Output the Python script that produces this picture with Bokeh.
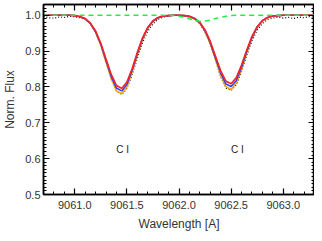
from bokeh.plotting import figure
from bokeh.models import LinearAxis, FixedTicker, PrintfTickFormatter, CustomJSTickFormatter, Range1d, ColumnDataSource, Title
from bokeh.core.properties import value
from bokeh.embed import file_html
from bokeh.resources import INLINE

# wavelength grid (Angstrom)
wave = [9060.70, 9060.75, 9060.80, 9060.85, 9060.90, 9060.95, 9061.00, 9061.05, 9061.10, 9061.15,
        9061.20, 9061.25, 9061.30, 9061.35, 9061.40, 9061.45, 9061.50, 9061.55, 9061.60, 9061.65,
        9061.70, 9061.75, 9061.80, 9061.85, 9061.90, 9061.95, 9062.00, 9062.05, 9062.10, 9062.15,
        9062.20, 9062.25, 9062.30, 9062.35, 9062.40, 9062.45, 9062.50, 9062.55, 9062.60, 9062.65,
        9062.70, 9062.75, 9062.80, 9062.85, 9062.90, 9062.95, 9063.00, 9063.05, 9063.10, 9063.15,
        9063.20, 9063.25, 9063.30]

flux_obs = [0.997, 0.993, 0.992, 0.995, 0.994, 0.997, 0.996, 0.993, 0.988, 0.976,
            0.952, 0.917, 0.870, 0.823, 0.789, 0.779, 0.796, 0.834, 0.880, 0.923,
            0.955, 0.976, 0.989, 0.995, 0.998, 1.000, 0.999, 0.998, 0.995, 0.989,
            0.976, 0.953, 0.918, 0.874, 0.829, 0.797, 0.790, 0.806, 0.843, 0.888,
            0.929, 0.958, 0.977, 0.988, 0.992, 0.995, 0.992, 0.994, 0.991, 0.995,
            0.993, 0.996, 0.994]

flux_red = [1.000, 1.000, 1.000, 1.000, 1.000, 1.000, 0.999, 0.996, 0.991, 0.978,
            0.956, 0.922, 0.878, 0.835, 0.804, 0.796, 0.814, 0.851, 0.896, 0.937,
            0.966, 0.984, 0.994, 0.998, 0.999, 1.000, 1.000, 0.999, 0.997, 0.991,
            0.980, 0.959, 0.927, 0.886, 0.845, 0.816, 0.809, 0.826, 0.861, 0.903,
            0.941, 0.968, 0.985, 0.994, 0.998, 0.999, 1.000, 1.000, 1.000, 1.000,
            1.000, 1.000, 1.000]

flux_blue = [1.000, 1.000, 1.000, 1.000, 1.000, 1.000, 0.999, 0.996, 0.990, 0.977,
             0.954, 0.919, 0.874, 0.829, 0.797, 0.789, 0.807, 0.846, 0.893, 0.935,
             0.965, 0.984, 0.993, 0.998, 0.999, 1.000, 1.000, 0.999, 0.997, 0.991,
             0.979, 0.957, 0.924, 0.881, 0.839, 0.808, 0.801, 0.818, 0.855, 0.899,
             0.938, 0.967, 0.985, 0.994, 0.998, 0.999, 1.000, 1.000, 1.000, 1.000,
             1.000, 1.000, 1.000]

flux_orange = [1.000, 1.000, 1.000, 1.000, 1.000, 1.000, 0.999, 0.996, 0.990, 0.977,
               0.953, 0.916, 0.869, 0.823, 0.789, 0.781, 0.800, 0.841, 0.889, 0.932,
               0.964, 0.983, 0.993, 0.997, 0.999, 1.000, 1.000, 0.999, 0.996, 0.990,
               0.978, 0.955, 0.920, 0.877, 0.832, 0.801, 0.793, 0.811, 0.849, 0.895,
               0.936, 0.966, 0.984, 0.993, 0.998, 0.999, 1.000, 1.000, 1.000, 1.000,
               1.000, 1.000, 1.000]

flux_green = [1.000, 1.000, 1.000, 1.000, 1.000, 1.000, 1.000, 1.000, 1.000, 1.000,
              1.000, 1.000, 1.000, 1.000, 1.000, 1.000, 1.000, 1.000, 1.000, 1.000,
              1.000, 1.000, 1.000, 1.000, 1.000, 0.999, 0.997, 0.994, 0.990, 0.986,
              0.983, 0.984, 0.986, 0.991, 0.994, 0.997, 0.999, 1.000, 1.000, 1.000,
              1.000, 1.000, 1.000, 1.000, 1.000, 1.000, 1.000, 1.000, 1.000, 1.000,
              1.000, 1.000, 1.000]

label_x = [9061.46, 9062.56]
label_y = [0.625, 0.625]
label_text = ["C I", "C I"]

x_title = "Wavelength [A]"
y_title = "Norm. Flux"

x_major = [9061.0, 9061.5, 9062.0, 9062.5, 9063.0]
x_minor = [round(9060.7 + 0.1 * i, 1) for i in range(27)]
y_major = [0.5, 0.6, 0.7, 0.8, 0.9, 1.0]
y_minor = [round(0.5 + 0.01 * i, 2) for i in range(54)]

FONT = "Liberation Sans"

p = figure(width=314, height=233, x_range=Range1d(9060.7, 9063.3), y_range=Range1d(0.5, 1.03),
           output_backend="svg", toolbar_location=None,
           min_border_left=40, min_border_right=0, min_border_top=4, min_border_bottom=0)
p.xgrid.visible = False
p.ygrid.visible = False
p.outline_line_color = "black"
p.outline_line_width = 1.5
p.background_fill_color = "white"
p.border_fill_color = "white"

src = ColumnDataSource(dict(w=wave, obs=flux_obs, red=flux_red, blue=flux_blue,
                            orange=flux_orange, green=flux_green))

p.line("w", "obs", source=src, line_color="black", line_width=1.2, line_dash="1 2")
p.line("w", "orange", source=src, line_color="#ffa500", line_width=1.6)
p.line("w", "blue", source=src, line_color="#2a48ff", line_width=1.6)
p.line("w", "red", source=src, line_color="#ff2020", line_width=1.6)
p.line("w", "green", source=src, line_color="#22ee44", line_width=1.5, line_dash="5 4")

p.text(x=label_x, y=label_y, text=label_text, text_align="center", text_baseline="middle",
       text_font=value(FONT), text_font_size="10px", text_color="#222222")

def style(ax, ticks, minor, labels=True):
    ax.ticker = FixedTicker(ticks=ticks, minor_ticks=minor)
    ax.major_tick_in = 6
    ax.major_tick_out = 0
    ax.minor_tick_in = 3
    ax.minor_tick_out = 0
    ax.axis_line_width = 1.5
    ax.major_tick_line_width = 1.2
    ax.minor_tick_line_width = 1
    ax.axis_line_color = "black"
    ax.major_tick_line_color = "black"
    ax.minor_tick_line_color = "black"
    ax.major_label_text_font = FONT
    ax.major_label_text_color = "#333333"
    ax.axis_label_text_font = FONT
    ax.axis_label_text_font_style = "normal"
    ax.axis_label_text_color = "#333333"
    if labels:
        ax.major_label_text_font_size = "11px"
        ax.formatter = PrintfTickFormatter(format="%.1f")
    else:
        ax.formatter = CustomJSTickFormatter(code="return '';")
        ax.major_label_text_font_size = "1px"
        ax.major_label_standoff = 0
        ax.axis_label_standoff = 0

xa = p.xaxis[0]
ya = p.yaxis[0]
style(xa, x_major, x_minor)
style(ya, y_major, y_minor)
xa.major_label_standoff = 6
ya.axis_label = y_title
ya.axis_label_text_font_size = "12px"
ya.major_label_standoff = 3
ya.axis_label_standoff = 5

# x-axis title placed as a title panel below the axis
p.add_layout(Title(text=x_title, align="center", text_font=FONT, text_font_size="12px",
                   text_font_style="normal", text_color="#333333", standoff=6), "below")

top = LinearAxis()
style(top, x_major, x_minor, labels=False)
p.add_layout(top, "above")
right = LinearAxis()
style(right, y_major, y_minor, labels=False)
p.add_layout(right, "right")

open("out.html", "w").write(file_html(p, INLINE))
